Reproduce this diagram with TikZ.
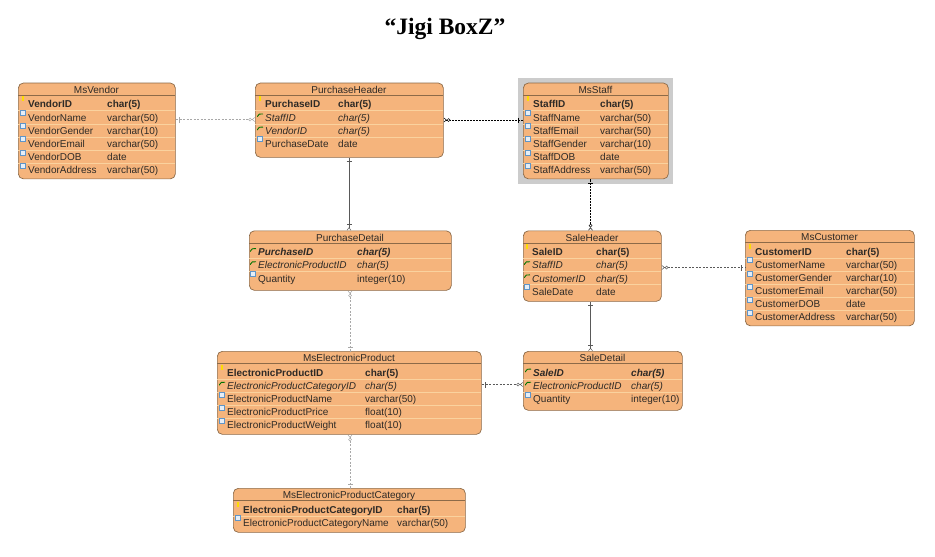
\documentclass[tikz,border=0pt]{standalone}
\usepackage{fontspec}
\setmainfont{Liberation Sans}
\newfontfamily\titlefont{Liberation Serif}
\usetikzlibrary{arrows.meta}
\definecolor{entfill}{HTML}{F5B47C}
\definecolor{entline}{HTML}{8C6A48}
\definecolor{rowline}{HTML}{FAD29E}
\definecolor{enttext}{HTML}{2E2A26}
\definecolor{linkgrey}{HTML}{A8A8A8}
\definecolor{iconblue}{HTML}{5F95C8}
\definecolor{iconfill}{HTML}{E6EEF6}
\tikzset{
  entbox/.style={draw=entline,fill=entfill,rounded corners=5pt,line width=0.7pt,inner sep=0pt},
  enttitle/.style={text=enttext,font=\fontsize{10}{12}\selectfont,inner sep=0pt,anchor=base},
  rowbox/.style={inner sep=0pt,minimum height=13.15pt},
  rowtext/.style={text=enttext,anchor=base west,inner sep=0pt,font=\fontsize{10}{12}\selectfont},
  pktext/.style={rowtext,font=\fontsize{10}{12}\selectfont\bfseries},
  fktext/.style={rowtext,font=\fontsize{10}{12}\selectfont\itshape},
  pftext/.style={rowtext,font=\fontsize{10}{12}\selectfont\bfseries\itshape},
  coltext/.style={rowtext},
  pkicon/.style={fill=yellow!80!orange,inner sep=0pt,minimum width=2pt,minimum height=5pt,yshift=1pt},
  colicon/.style={draw=iconblue,fill=iconfill,line width=0.7pt,inner sep=0pt,minimum width=4.5pt,minimum height=5pt},
  fkicon/.style={inner sep=0pt,minimum size=6pt,yshift=-1pt,path picture={
    \draw[green!45!black,line width=0.9pt] (path picture bounding box.south west) to[bend left=50] (path picture bounding box.east);}},
  pficon/.style={fkicon},
  link/.style={draw=linkgrey,line width=0.5pt,dash pattern=on 2pt off 1.5pt},
  darklink/.style={draw=black!65,line width=0.5pt,dash pattern=on 2pt off 1.5pt},
  hardlink/.style={draw=black!65,line width=0.6pt},
  sellink/.style={draw=black,line width=1pt,dash pattern=on 2pt off 1pt},
  onetip/.tip={Bar[width=5pt,length=0.6pt,sep=3pt] Bar[width=0.1pt,length=0.1pt]},
  bartip/.tip={Bar[width=5pt,length=0.6pt,sep=2.5pt] Straight Barb[reversed,length=2.5pt,width=4pt,line width=0.5pt]},
  zerotip/.tip={Circle[open,length=3.5pt,width=3.5pt,line width=0.5pt,fill=white,sep=0pt] Straight Barb[reversed,length=2.5pt,width=4pt,line width=0.5pt]},
}
% #1 name, #2 #3 top left, #4 #5 bottom right, #6 name column, #7 type column, #8 title, #9 rows
\newcommand{\entity}[9]{
  \pgfmathsetlengthmacro{\entw}{#4-#2}
  \pgfmathsetlengthmacro{\enth}{#5-#3}
  \pgfmathsetmacro{\entmid}{(#2+#4)/2}
  \node[entbox,anchor=north west,minimum width=\entw,minimum height=\enth] (#1) at (#2,#3) {};
  \node[enttitle] (#1-title) at (\entmid,#3+10.8) {#8};
  \draw[entline,line width=0.7pt] (#2,#3+12.8) -- (#4,#3+12.8);
  \foreach \k/\a/\b [count=\i] in {#9} {
    \pgfmathsetmacro{\rowy}{#3+21.6+(\i-1)*13.15}
    \node[rowbox,minimum width=\entw] (#1-\i) at (\entmid,\rowy) {};
    \ifnum\i>1 \draw[rowline,line width=0.6pt] (#1-\i.north west) -- (#1-\i.north east); \fi
    \node[\k text] (#1-\i-name) at (#6,\rowy+3.6) {\a};
    \node[\k text] (#1-\i-type) at (#7,\rowy+3.6) {\b};
    \node[\k icon] (#1-\i-icon) at (#6-5,\rowy-4.5) {};
  }
}
\begin{document}
\begin{tikzpicture}[x=1pt,y=-1pt]
  \useasboundingbox (0,0) rectangle (935,557);
  \node[font=\titlefont\fontsize{23.5}{26}\selectfont\bfseries,inner sep=0pt,anchor=base] (title) at (445,34.5) {“Jigi BoxZ”};

  % selection frame
  \fill[black!20] (518,78) rectangle (673,184);

  \entity{MsVendor}{18}{82.7}{175}{178.5}{28}{107}{MsVendor}
    {pk/VendorID/char(5),col/VendorName/varchar(50),col/VendorGender/varchar(10),
     col/VendorEmail/varchar(50),col/VendorDOB/date,col/VendorAddress/varchar(50)}
  \entity{PurchaseHeader}{255}{82.7}{443}{157}{265}{338}{PurchaseHeader}
    {pk/PurchaseID/char(5),fk/StaffID/char(5),fk/VendorID/char(5),col/PurchaseDate/date}
  \entity{MsStaff}{523}{82.7}{668}{178.5}{533}{600}{MsStaff}
    {pk/StaffID/char(5),col/StaffName/varchar(50),col/StaffEmail/varchar(50),
     col/StaffGender/varchar(10),col/StaffDOB/date,col/StaffAddress/varchar(50)}
  \entity{PurchaseDetail}{249}{230.5}{451}{290}{258}{357}{PurchaseDetail}
    {pf/PurchaseID/char(5),fk/ElectronicProductID/char(5),col/Quantity/integer(10)}
  \entity{SaleHeader}{523}{230.5}{661}{301}{532}{596}{SaleHeader}
    {pk/SaleID/char(5),fk/StaffID/char(5),fk/CustomerID/char(5),col/SaleDate/date}
  \entity{MsCustomer}{745}{230}{914}{325.5}{755}{846}{MsCustomer}
    {pk/CustomerID/char(5),col/CustomerName/varchar(50),col/CustomerGender/varchar(10),
     col/CustomerEmail/varchar(50),col/CustomerDOB/date,col/CustomerAddress/varchar(50)}
  \entity{MsElectronicProduct}{217}{351}{481}{434}{227}{365}{MsElectronicProduct}
    {pk/ElectronicProductID/char(5),fk/ElectronicProductCategoryID/char(5),col/ElectronicProductName/varchar(50),
     col/ElectronicProductPrice/float(10),col/ElectronicProductWeight/float(10)}
  \entity{SaleDetail}{523}{351}{682}{410}{533}{631}{SaleDetail}
    {pf/SaleID/char(5),fk/ElectronicProductID/char(5),col/Quantity/integer(10)}
  \entity{MsElectronicProductCategory}{233}{488}{465}{532}{243}{397}{MsElectronicProductCategory}
    {pk/ElectronicProductCategoryID/char(5),col/ElectronicProductCategoryName/varchar(50)}

  % connector lanes
  \coordinate (vendorlane) at (0,119.5);
  \coordinate (stafflane) at (0,120);
  \coordinate (customerlane) at (0,267.5);
  \coordinate (productlane) at (0,384.5);
  \coordinate (purchasecol) at (349,0);
  \coordinate (productcol) at (350,0);
  \coordinate (salecol) at (590.5,0);

  % connectors
  \draw[link,onetip-zerotip] (MsVendor.east |- vendorlane) -- (PurchaseHeader.west |- vendorlane);
  \draw[sellink,zerotip-onetip] (PurchaseHeader.east |- stafflane) -- (MsStaff.west |- stafflane);
  \draw[hardlink,onetip-bartip] (purchasecol |- PurchaseHeader.south) -- (purchasecol |- PurchaseDetail.north);
  \draw[sellink,onetip-zerotip] (salecol |- MsStaff.south) -- (salecol |- SaleHeader.north);
  \draw[darklink,zerotip-onetip] (SaleHeader.east |- customerlane) -- (MsCustomer.west |- customerlane);
  \draw[hardlink,onetip-bartip] (salecol |- SaleHeader.south) -- (salecol |- SaleDetail.north);
  \draw[link,zerotip-onetip] (productcol |- PurchaseDetail.south) -- (productcol |- MsElectronicProduct.north);
  \draw[darklink,onetip-zerotip] (MsElectronicProduct.east |- productlane) -- (SaleDetail.west |- productlane);
  \draw[link,zerotip-onetip] (productcol |- MsElectronicProduct.south) -- (productcol |- MsElectronicProductCategory.north);
\end{tikzpicture}
\end{document}
